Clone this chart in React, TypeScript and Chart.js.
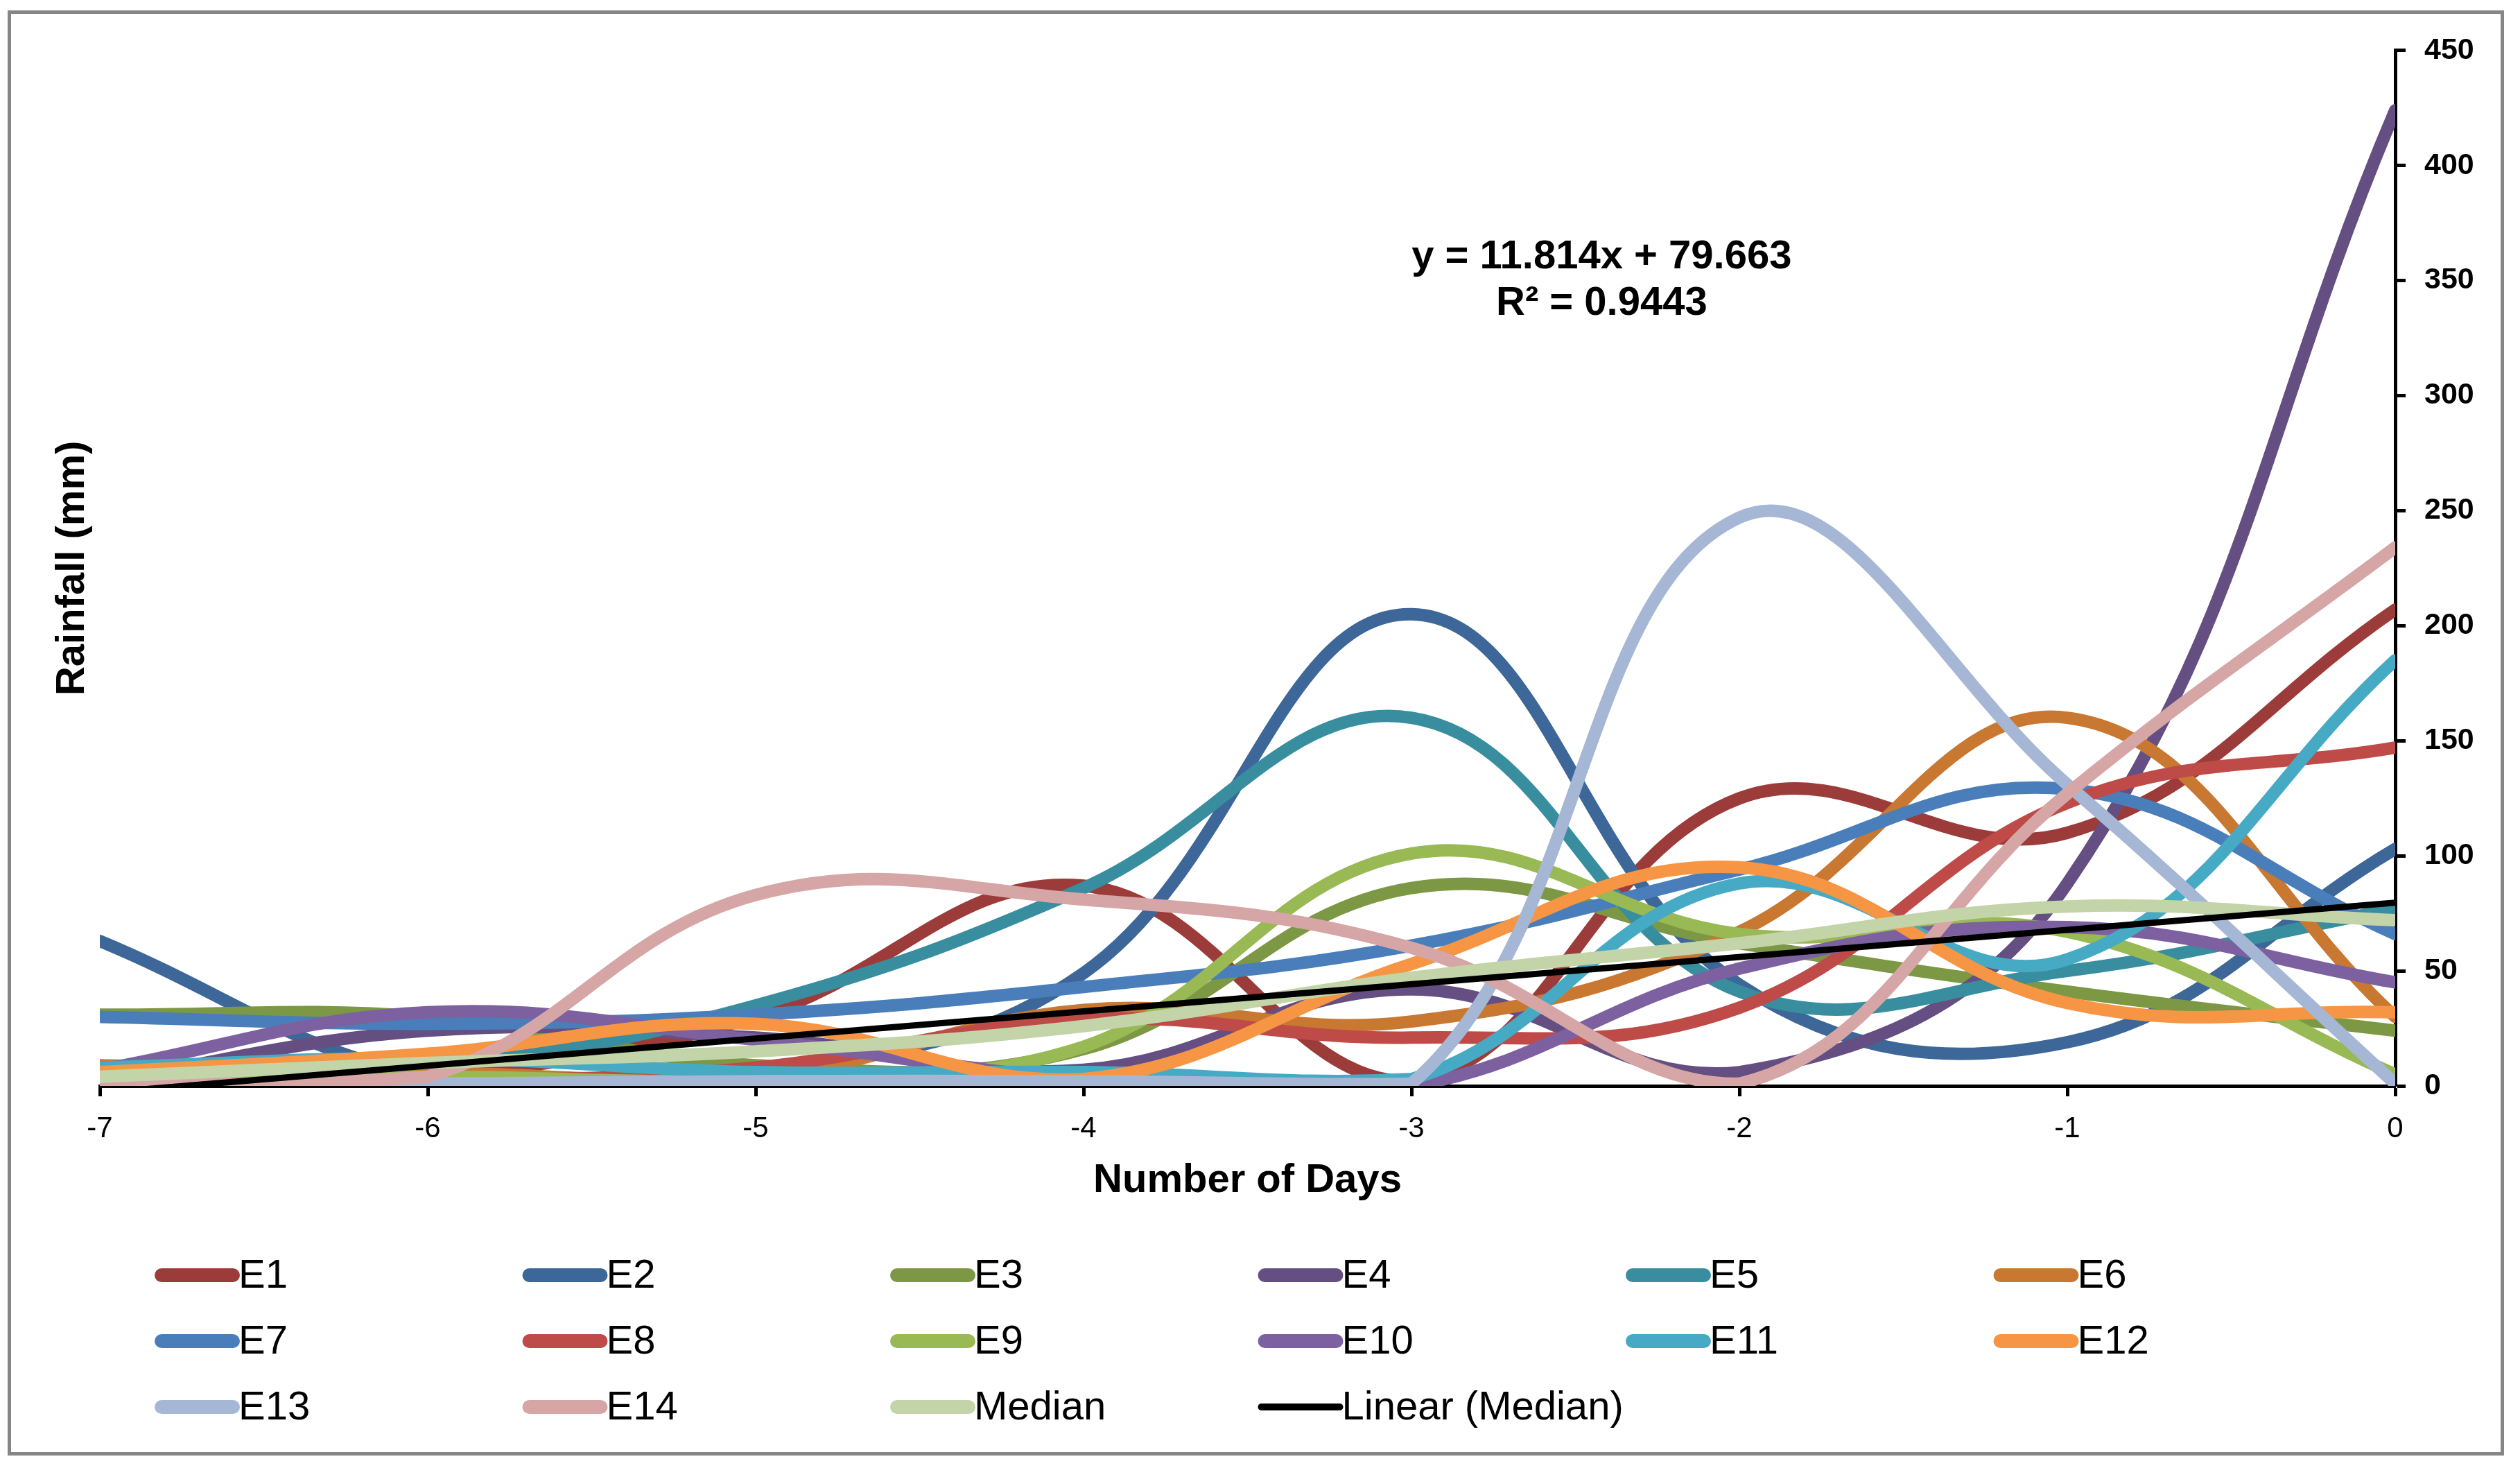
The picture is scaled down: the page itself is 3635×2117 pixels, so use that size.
import React, { useEffect, useRef } from "react";
import { Chart, registerables } from "chart.js";

Chart.register(...registerables);

// ---------- data ----------
const DAYS = [-7, -6, -5, -4, -3, -2, -1, 0];

const E1 = [2, 4, 30, 87, 2, 125, 110, 207];
const E2 = [63, 4, 6, 49, 205, 44, 19, 103];
const E3 = [31, 30, 9, 16, 86, 62, 41, 24];
const E4 = [2, 24, 21, 7, 42, 6, 88, 424];
const E5 = [4, 8, 35, 86, 160, 41, 50, 77];
const E6 = [9, 6, 4, 33, 28, 67, 160, 30];
const E7 = [30, 27, 31, 43, 61, 94, 129, 66];
const E8 = [2, 2, 8, 29, 21, 34, 123, 147];
const E9 = [2, 4, 3, 17, 101, 66, 67, 5];
const E10 = [7, 32, 20, 3, 0, 51, 69, 45];
const E11 = [8, 12, 6, 6, 3, 88, 55, 185];
const E12 = [6, 14, 27, 3, 53, 95, 36, 32];
const E13 = [1, 1, 2, 2, 1, 247, 131, 1];
const E14 = [0, 4, 83, 81, 60, 1, 127, 234];
const MEDIAN = [4, 10, 15, 26, 47, 62, 78, 72];

const SERIES_LABELS = ["E1", "E2", "E3", "E4", "E5", "E6", "E7", "E8", "E9", "E10", "E11", "E12", "E13", "E14", "Median"];
const SERIES_VALUES = [E1, E2, E3, E4, E5, E6, E7, E8, E9, E10, E11, E12, E13, E14, MEDIAN];
const SERIES_COLORS = [
  "#9C3C3A", "#3C6798", "#7D9844", "#654F82", "#388E9F", "#C97832",
  "#4A7EBB", "#BE4B48", "#98B954", "#7D60A0", "#46AAC5", "#F69544",
  "#A5B7D5", "#D5A6A5", "#C3D4A9",
];

const TREND_LABEL = "Linear (Median)";
const TREND_SLOPE = 11.814;
const TREND_INTERCEPT = 79.663;
const R_SQUARED = 0.9443;

const X_TITLE = "Number of Days";
const Y_TITLE = "Rainfall (mm)";
const Y_MIN = 0;
const Y_MAX = 450;
const Y_STEP = 50;

// ---------- layout (px) ----------
const CANVAS_W = 3591;
const CANVAS_H = 2074;
const FONT = "'Liberation Sans', Arial, Helvetica, sans-serif";

const overlayPlugin = {
  id: "overlay",
  afterDraw(chart: any) {
    const ctx = chart.ctx as CanvasRenderingContext2D;
    const xs = chart.scales.x;
    const ys = chart.scales.y;
    ctx.save();
    // trendline equation
    ctx.fillStyle = "#000";
    ctx.font = `bold 58px ${FONT}`;
    ctx.textAlign = "center";
    ctx.textBaseline = "middle";
    const ax = xs.getPixelForValue(-2.42);
    const ay = ys.getPixelForValue(360);
    ctx.fillText(`y = ${TREND_SLOPE}x + ${TREND_INTERCEPT}`, ax, ay);
    ctx.fillText(`R\u00B2 = ${R_SQUARED}`, ax, ay + 67);

    // legend (6 columns)
    const ds = chart.data.datasets;
    const left0 = 207;
    const colW = 530.5;
    const top0 = 1819;
    const rowH = 95;
    const swW = 123;
    ctx.textAlign = "left";
    ctx.font = `58px ${FONT}`;
    ds.forEach((d: any, i: number) => {
      const col = i % 6;
      const row = Math.floor(i / 6);
      const x = left0 + col * colW;
      const y = top0 + row * rowH;
      const lw = d.borderWidth >= 15 ? 20 : 10;
      ctx.strokeStyle = d.borderColor;
      ctx.lineWidth = lw;
      ctx.lineCap = "round";
      ctx.beginPath();
      ctx.moveTo(x + lw / 2, y);
      ctx.lineTo(x + swW - lw / 2, y);
      ctx.stroke();
      ctx.fillStyle = "#000";
      ctx.fillText(d.label, x + swW - 2, y + 2);
    });
    ctx.restore();
  },
};

export default function App() {
  const ref = useRef<HTMLCanvasElement | null>(null);

  useEffect(() => {
    if (!ref.current) return;
    const n = SERIES_VALUES.length;
    const datasets: any[] = SERIES_VALUES.map((vals, i) => ({
      label: SERIES_LABELS[i],
      data: DAYS.map((d, k) => ({ x: d, y: vals[k] })),
      borderColor: SERIES_COLORS[i],
      backgroundColor: SERIES_COLORS[i],
      borderWidth: 18,
      borderCapStyle: "round",
      borderJoinStyle: "round",
      pointRadius: 0,
      pointHoverRadius: 0,
      tension: 0.4,
      fill: false,
      order: 100 - i,
    }));
    const xStart = DAYS[0];
    const xEnd = DAYS[DAYS.length - 1];
    datasets.push({
      label: TREND_LABEL,
      data: [
        { x: xStart, y: TREND_SLOPE * (xStart - xEnd) + TREND_INTERCEPT },
        { x: xEnd, y: TREND_INTERCEPT },
      ],
      borderColor: "#000000",
      backgroundColor: "#000000",
      borderWidth: 9,
      pointRadius: 0,
      tension: 0,
      fill: false,
      order: 100 - n,
    });

    const chart = new Chart(ref.current, {
      type: "line",
      data: { datasets },
      plugins: [overlayPlugin],
      options: {
        animation: false,
        responsive: false,
        devicePixelRatio: 1,
        events: [],
        layout: { padding: { left: 50, right: 0, top: 50, bottom: 352 } },
        plugins: {
          legend: { display: false },
          tooltip: { enabled: false },
          title: { display: false },
        },
        scales: {
          x: {
            type: "linear",
            position: "bottom",
            min: DAYS[0],
            max: DAYS[DAYS.length - 1],
            ticks: {
              stepSize: 1,
              color: "#000",
              padding: 22,
              font: { family: FONT, size: 42 },
            },
            grid: {
              display: true,
              drawOnChartArea: false,
              drawTicks: true,
              tickLength: 15,
              tickWidth: 5,
              tickColor: "#000",
            },
            border: { display: true, color: "#000", width: 5 },
            title: {
              display: true,
              text: X_TITLE,
              color: "#000",
              font: { family: FONT, size: 58, weight: "bold" },
            },
            afterFit: (s: any) => {
              s.height = 176;
            },
          },
          y: {
            type: "linear",
            position: "right",
            min: Y_MIN,
            max: Y_MAX,
            ticks: {
              stepSize: Y_STEP,
              color: "#000",
              padding: 27,
              font: { family: FONT, size: 43, weight: "bold" },
            },
            grid: {
              display: true,
              drawOnChartArea: false,
              drawTicks: true,
              tickLength: 15,
              tickWidth: 5,
              tickColor: "#000",
            },
            border: { display: true, color: "#000", width: 5 },
            afterFit: (s: any) => {
              s.width = 152;
            },
          },
          yTitle: {
            type: "linear",
            position: "left",
            min: 0,
            max: 1,
            display: true,
            ticks: { display: false },
            grid: { display: false, drawTicks: false },
            border: { display: false },
            title: {
              display: true,
              text: Y_TITLE,
              color: "#000",
              font: { family: FONT, size: 58, weight: "bold" },
            },
            afterFit: (s: any) => {
              s.width = 78;
            },
          },
        },
      } as any,
    });
    return () => chart.destroy();
  }, []);

  return (
    <div
      style={{
        position: "absolute",
        left: 11,
        top: 15,
        width: CANVAS_W,
        height: CANVAS_H,
        border: "5px solid #868686",
        background: "#fff",
      }}
    >
      <canvas
        ref={ref}
        width={CANVAS_W}
        height={CANVAS_H}
        style={{ width: CANVAS_W, height: CANVAS_H, display: "block" }}
      />
    </div>
  );
}
